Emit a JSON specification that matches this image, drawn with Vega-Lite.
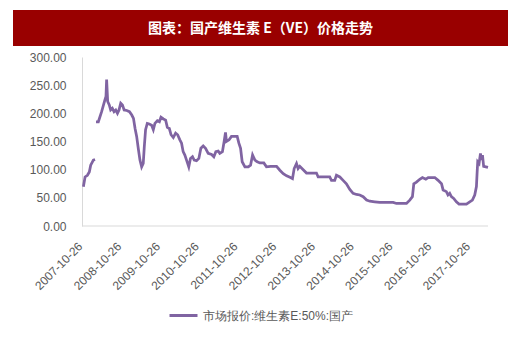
{
  "$schema": "https://vega.github.io/schema/vega-lite/v6.json",
  "padding": {"left": 13, "top": 10, "right": 5, "bottom": 5},
  "background": "white",
  "spacing": 5,
  "config": {"view": {"stroke": null}, "font": "Liberation Sans"},
  "vconcat": [
    {
      "width": 495,
      "height": 36,
      "view": {"fill": "#990000", "stroke": null},
      "data": {"values": [{"t": "图表：国产维生素 E（VE）价格走势"}]},
      "mark": {"type": "text", "color": "white", "fontSize": 14, "fontWeight": "bold", "font": "Noto Sans CJK SC", "baseline": "middle", "dy": 1},
      "encoding": {"text": {"field": "t"}}
    },
    {
      "width": 475,
      "height": 169,
      "layer": [
        {
          "data": {"values": [
            {"date": "2007-11-08", "price": 69.5},
            {"date": "2007-11-24", "price": 87},
            {"date": "2007-12-16", "price": 90},
            {"date": "2008-01-03", "price": 96},
            {"date": "2008-01-16", "price": 108},
            {"date": "2008-02-10", "price": 117},
            {"date": "2008-02-26", "price": 118},
            {"date": "2008-03-01", "price": null},
            {"date": "2008-03-06", "price": 185},
            {"date": "2008-03-28", "price": 185},
            {"date": "2008-04-28", "price": 203},
            {"date": "2008-05-29", "price": 224},
            {"date": "2008-06-08", "price": 230},
            {"date": "2008-06-14", "price": 260},
            {"date": "2008-06-24", "price": 221},
            {"date": "2008-07-09", "price": 215},
            {"date": "2008-07-22", "price": 206},
            {"date": "2008-08-07", "price": 209},
            {"date": "2008-08-23", "price": 203},
            {"date": "2008-09-08", "price": 206},
            {"date": "2008-09-24", "price": 200},
            {"date": "2008-10-09", "price": 206},
            {"date": "2008-10-25", "price": 218},
            {"date": "2008-11-10", "price": 215},
            {"date": "2008-11-26", "price": 206},
            {"date": "2008-12-21", "price": 205},
            {"date": "2009-01-15", "price": 203},
            {"date": "2009-02-06", "price": 197},
            {"date": "2009-02-22", "price": 191},
            {"date": "2009-03-09", "price": 173},
            {"date": "2009-03-24", "price": 159},
            {"date": "2009-04-08", "price": 138},
            {"date": "2009-04-24", "price": 117},
            {"date": "2009-05-10", "price": 105},
            {"date": "2009-05-25", "price": 111},
            {"date": "2009-06-04", "price": 141},
            {"date": "2009-06-16", "price": 171},
            {"date": "2009-07-02", "price": 182},
            {"date": "2009-07-21", "price": 181},
            {"date": "2009-08-12", "price": 179},
            {"date": "2009-08-28", "price": 171},
            {"date": "2009-09-12", "price": 182},
            {"date": "2009-10-05", "price": 187},
            {"date": "2009-10-24", "price": 185},
            {"date": "2009-11-08", "price": 193},
            {"date": "2009-12-01", "price": 190},
            {"date": "2009-12-22", "price": 188},
            {"date": "2010-01-07", "price": 175},
            {"date": "2010-01-26", "price": 173},
            {"date": "2010-02-11", "price": 162},
            {"date": "2010-03-04", "price": 157},
            {"date": "2010-03-26", "price": 165},
            {"date": "2010-04-14", "price": 162},
            {"date": "2010-05-05", "price": 153},
            {"date": "2010-05-21", "price": 147},
            {"date": "2010-06-05", "price": 132},
            {"date": "2010-06-21", "price": 126},
            {"date": "2010-07-07", "price": 117},
            {"date": "2010-07-28", "price": 105},
            {"date": "2010-08-13", "price": 120},
            {"date": "2010-09-01", "price": 123},
            {"date": "2010-09-17", "price": 117},
            {"date": "2010-10-09", "price": 116},
            {"date": "2010-10-31", "price": 120},
            {"date": "2010-11-19", "price": 138},
            {"date": "2010-12-11", "price": 142},
            {"date": "2011-01-02", "price": 138},
            {"date": "2011-01-27", "price": 129},
            {"date": "2011-02-28", "price": 127},
            {"date": "2011-03-21", "price": 123},
            {"date": "2011-04-09", "price": 132},
            {"date": "2011-05-01", "price": 133},
            {"date": "2011-05-16", "price": 129},
            {"date": "2011-06-10", "price": 132},
            {"date": "2011-06-26", "price": 150},
            {"date": "2011-07-09", "price": 166},
            {"date": "2011-07-18", "price": 150},
            {"date": "2011-08-12", "price": 153},
            {"date": "2011-09-03", "price": 159},
            {"date": "2011-10-27", "price": 159},
            {"date": "2011-11-12", "price": 147},
            {"date": "2011-11-28", "price": 138},
            {"date": "2011-12-13", "price": 114},
            {"date": "2012-01-08", "price": 105},
            {"date": "2012-02-08", "price": 105},
            {"date": "2012-03-01", "price": 108},
            {"date": "2012-03-20", "price": 126},
            {"date": "2012-04-11", "price": 117},
            {"date": "2012-05-03", "price": 114},
            {"date": "2012-05-28", "price": 112},
            {"date": "2012-07-04", "price": 112},
            {"date": "2012-07-29", "price": 105},
            {"date": "2012-09-05", "price": 106},
            {"date": "2012-11-01", "price": 106},
            {"date": "2012-12-02", "price": 99},
            {"date": "2013-01-03", "price": 93},
            {"date": "2013-02-04", "price": 89},
            {"date": "2013-03-12", "price": 86},
            {"date": "2013-03-31", "price": 84},
            {"date": "2013-04-16", "price": 102},
            {"date": "2013-05-08", "price": 111},
            {"date": "2013-05-23", "price": 102},
            {"date": "2013-06-08", "price": 106},
            {"date": "2013-07-10", "price": 100},
            {"date": "2013-08-10", "price": 94},
            {"date": "2013-11-12", "price": 94},
            {"date": "2013-11-28", "price": 87},
            {"date": "2014-03-17", "price": 87},
            {"date": "2014-04-02", "price": 81},
            {"date": "2014-05-03", "price": 81},
            {"date": "2014-05-19", "price": 90},
            {"date": "2014-06-20", "price": 87},
            {"date": "2014-07-21", "price": 81},
            {"date": "2014-08-21", "price": 75},
            {"date": "2014-09-22", "price": 65},
            {"date": "2014-10-23", "price": 58},
            {"date": "2014-11-24", "price": 56},
            {"date": "2014-12-25", "price": 55},
            {"date": "2015-01-26", "price": 52},
            {"date": "2015-02-27", "price": 46},
            {"date": "2015-03-30", "price": 44},
            {"date": "2015-05-15", "price": 43},
            {"date": "2015-07-01", "price": 42},
            {"date": "2015-11-04", "price": 42},
            {"date": "2015-12-06", "price": 40},
            {"date": "2016-03-09", "price": 40},
            {"date": "2016-04-09", "price": 46},
            {"date": "2016-05-04", "price": 52},
            {"date": "2016-05-17", "price": 75},
            {"date": "2016-06-11", "price": 78},
            {"date": "2016-07-12", "price": 83},
            {"date": "2016-08-06", "price": 86},
            {"date": "2016-09-07", "price": 83},
            {"date": "2016-09-29", "price": 86},
            {"date": "2016-12-01", "price": 86},
            {"date": "2017-01-01", "price": 81},
            {"date": "2017-02-02", "price": 75},
            {"date": "2017-02-17", "price": 64},
            {"date": "2017-03-20", "price": 61},
            {"date": "2017-04-04", "price": 55},
            {"date": "2017-04-20", "price": 58},
            {"date": "2017-05-06", "price": 52},
            {"date": "2017-05-28", "price": 49},
            {"date": "2017-06-22", "price": 43},
            {"date": "2017-07-17", "price": 39},
            {"date": "2017-09-25", "price": 39},
            {"date": "2017-10-26", "price": 43},
            {"date": "2017-11-20", "price": 46},
            {"date": "2017-12-12", "price": 55},
            {"date": "2017-12-28", "price": 70},
            {"date": "2018-01-03", "price": 93},
            {"date": "2018-01-09", "price": 114},
            {"date": "2018-01-22", "price": 111},
            {"date": "2018-02-04", "price": 129},
            {"date": "2018-02-13", "price": 117},
            {"date": "2018-02-23", "price": 126},
            {"date": "2018-03-06", "price": 106},
            {"date": "2018-04-16", "price": 104}
          ]},
          "mark": {"type": "line", "strokeWidth": 2.75, "invalid": "break-paths-filter-domains"},
          "encoding": {
            "x": {
              "field": "date",
              "type": "temporal",
              "scale": {"type": "utc", "domain": [{"year": 2006, "month": 1, "date": 14, "utc": true}, {"year": 2018, "month": 4, "date": 16, "utc": true}]},
              "axis": {
                "values": [
                  {"year": 2007, "month": 10, "date": 26, "utc": true},
                  {"year": 2008, "month": 10, "date": 26, "utc": true},
                  {"year": 2009, "month": 10, "date": 26, "utc": true},
                  {"year": 2010, "month": 10, "date": 26, "utc": true},
                  {"year": 2011, "month": 10, "date": 26, "utc": true},
                  {"year": 2012, "month": 10, "date": 26, "utc": true},
                  {"year": 2013, "month": 10, "date": 26, "utc": true},
                  {"year": 2014, "month": 10, "date": 26, "utc": true},
                  {"year": 2015, "month": 10, "date": 26, "utc": true},
                  {"year": 2016, "month": 10, "date": 26, "utc": true},
                  {"year": 2017, "month": 10, "date": 26, "utc": true}
                ],
                "format": "%Y-%m-%d",
                "labelAngle": -45,
                "labelAlign": "right",
                "labelBaseline": "middle",
                "labelFlush": false,
                "labelOverlap": false,
                "labelOffset": -2,
                "ticks": false,
                "tickSize": 0,
                "labelPadding": 18,
                "domain": false,
                "grid": false,
                "title": null,
                "labelColor": "#595959",
                "labelFontSize": 12
              }
            },
            "y": {
              "field": "price",
              "type": "quantitative",
              "scale": {"domain": [0, 300], "nice": false},
              "axis": {
                "values": [0, 50, 100, 150, 200, 250, 300],
                "format": ".2f",
                "offset": -69,
                "labelOverlap": false,
                "ticks": false,
                "tickSize": 0,
                "labelPadding": 16,
                "grid": false,
                "title": null,
                "domainColor": "#D9D9D9",
                "labelColor": "#595959",
                "labelFontSize": 12
              }
            },
            "color": {
              "datum": "市场报价:维生素E:50%:国产",
              "scale": {"range": ["#8064A2"]},
              "legend": {
                "title": null,
                "orient": "none",
                "legendX": 155,
                "legendY": 290,
                "symbolType": "stroke",
                "symbolSize": 784,
                "symbolStrokeWidth": 3,
                "labelFontSize": 12,
                "labelColor": "#595959",
                "labelOffset": 4,
                "labelFont": "Liberation Sans"
              }
            }
          }
        },
        {
          "data": {"values": [{}]},
          "mark": {"type": "rule", "color": "#D9D9D9", "strokeWidth": 1},
          "encoding": {
            "x": {
              "datum": {"year": 2007, "month": 10, "date": 26, "utc": true},
              "type": "temporal",
              "axis": {
                "values": [
                  {"year": 2007, "month": 10, "date": 26, "utc": true},
                  {"year": 2008, "month": 10, "date": 26, "utc": true},
                  {"year": 2009, "month": 10, "date": 26, "utc": true},
                  {"year": 2010, "month": 10, "date": 26, "utc": true},
                  {"year": 2011, "month": 10, "date": 26, "utc": true},
                  {"year": 2012, "month": 10, "date": 26, "utc": true},
                  {"year": 2013, "month": 10, "date": 26, "utc": true},
                  {"year": 2014, "month": 10, "date": 26, "utc": true},
                  {"year": 2015, "month": 10, "date": 26, "utc": true},
                  {"year": 2016, "month": 10, "date": 26, "utc": true},
                  {"year": 2017, "month": 10, "date": 26, "utc": true}
                ],
                "format": "%Y-%m-%d",
                "labelAngle": -45,
                "labelAlign": "right",
                "labelBaseline": "middle",
                "labelFlush": false,
                "labelOverlap": false,
                "labelOffset": -2,
                "ticks": false,
                "tickSize": 0,
                "labelPadding": 18,
                "domain": false,
                "grid": false,
                "title": null,
                "labelColor": "#595959",
                "labelFontSize": 12
              }
            },
            "x2": {"datum": {"year": 2018, "month": 4, "date": 16, "utc": true}},
            "y": {
              "datum": 0,
              "type": "quantitative",
              "axis": {
                "values": [0, 50, 100, 150, 200, 250, 300],
                "format": ".2f",
                "offset": -69,
                "labelOverlap": false,
                "ticks": false,
                "tickSize": 0,
                "labelPadding": 16,
                "grid": false,
                "title": null,
                "domainColor": "#D9D9D9",
                "labelColor": "#595959",
                "labelFontSize": 12
              }
            }
          }
        }
      ]
    }
  ]
}
